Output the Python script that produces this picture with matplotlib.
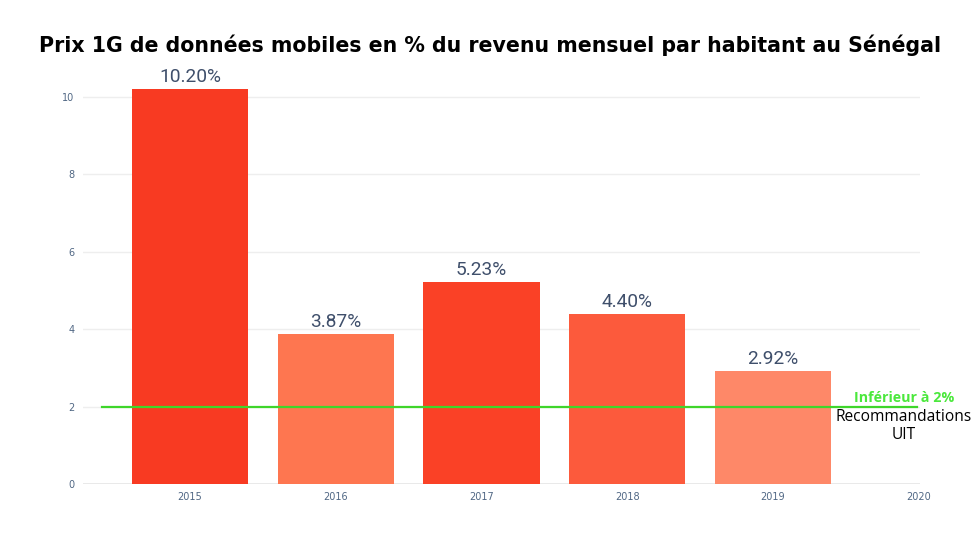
import matplotlib.pyplot as plt
import numpy as np

years = [2015, 2016, 2017, 2018, 2019]
prix = [10.20, 3.87, 5.23, 4.40, 2.92]
labels = ["10.20%", "3.87%", "5.23%", "4.40%", "2.92%"]
couleurs = ["#f83a22", "#fe7650", "#fa4126", "#fc5a3c", "#fe8868"]
xticks = [2015, 2016, 2017, 2018, 2019, 2020]
seuil = 2
seuil_x = [2014.395, 2019.99]

fig = plt.figure(figsize=(9.8, 5.51), dpi=100)
ax = fig.add_axes([0.0847, 0.1216, 0.8541, 0.7543])

ax.bar(years, prix, width=0.8, color=couleurs, zorder=2)
for x, v, t in zip(years, prix, labels):
    ax.annotate(t, (x, v), xytext=(0, 2), textcoords="offset points",
                ha="center", va="bottom", fontsize=13.8, color="#3f4f6b",
                family="Roboto")

ax.plot(seuil_x, [seuil, seuil], color="#3ed62a", lw=1.6, zorder=3)
ax.text(2019.9, 2.22, "Inférieur à 2%", color="#4be83c", fontsize=10.3,
        fontweight="bold", ha="center", va="center", family="Open Sans")
ax.text(2019.9, 1.5, "Recommandations\nUIT", color="black", fontsize=11.2,
        ha="center", va="center", family="Open Sans", linespacing=1.15)

ax.set_xlim(2014.265, 2020.01)
ax.set_ylim(0, 10.74)
ax.set_xticks(xticks)
ax.set_yticks([0, 2, 4, 6, 8, 10])
ax.tick_params(length=0, labelsize=7, labelcolor="#506784", pad=6)
ax.grid(axis="y", color="#eeeeee", lw=1, zorder=0)
for s in ax.spines.values():
    s.set_visible(False)
ax.axhline(0, color="#e4e4e4", lw=1.2, zorder=1)

fig.text(0.5, 0.917, "Prix 1G de données mobiles en % du revenu mensuel par habitant au Sénégal",
         ha="center", va="center", fontsize=14.8, fontweight="bold")

plt.savefig("out.png")
